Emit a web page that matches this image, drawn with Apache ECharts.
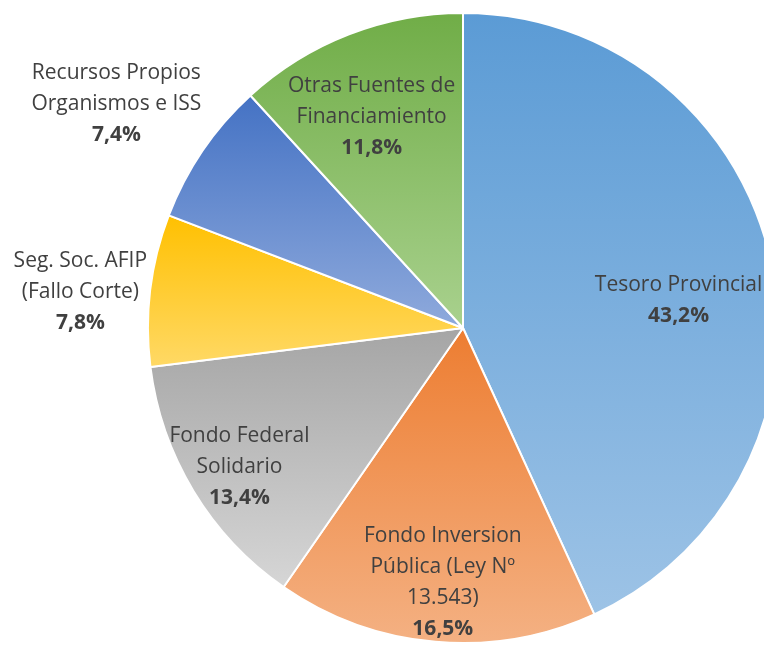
<!DOCTYPE html>
<html>
<head>
<meta charset="utf-8">
<script src="https://cdn.jsdelivr.net/npm/echarts@6/dist/echarts.min.js"></script>
<style>
  html, body { margin: 0; padding: 0; background: #fff; }
  #chart { width: 764px; height: 646px; }
</style>
</head>
<body>
<div id="chart"></div>
<script>
// datos
const categories = [
    'Tesoro Provincial',
    'Fondo Inversion\nPública (Ley Nº\n13.543)',
    'Fondo Federal\nSolidario',
    'Seg. Soc. AFIP\n(Fallo Corte)',
    'Recursos Propios\nOrganismos e ISS',
    'Otras Fuentes de\nFinanciamiento'
];
const shares = [43.2, 16.5, 13.4, 7.8, 7.4, 11.8];

// colores (arriba -> abajo del degradado)
const colorsTop = ['#5b9bd5', '#ed7d31', '#a5a5a5', '#ffc000', '#4472c4', '#70ad47'];
const colorsBottom = ['#9dc3e6', '#f4b183', '#d6d6d6', '#ffd966', '#8faadc', '#a9d18e'];
// posicion de la etiqueta: distancia relativa al radio y desvio de angulo (grados)
const labelRadius = [0.69, 0.81, 0.835, 1.22, 1.31, 0.73];
const labelShift = [5, -0.5, -0.6, -1.6, -1.4, -2.2];

const cx = 463, cy = 328, R = 315;

const total = shares.reduce((a, b) => a + b, 0);
const cumul = [];
shares.reduce((acc, v, i) => { cumul[i] = acc; return acc + v; }, 0);

const fmt = v => v.toFixed(1).replace('.', ',') + '%';

let myChart = echarts.init(document.getElementById('chart'));

let option = {
    animation: false,
    textStyle: {fontFamily: 'Open Sans'},
    series: [
        {
            type: 'pie',
            center: [cx, cy],
            radius: [0, R],
            startAngle: 90,
            clockwise: true,
            avoidLabelOverlap: false,
            itemStyle: {borderColor: '#fff', borderWidth: 2},
            label: {
                show: true,
                position: 'inside',
                formatter: p => '{n|' + p.name.split('\n').join('}\n{n|') + '}\n{v|' + fmt(p.value) + '}',
                rich: {
                    n: {fontSize: 21, color: '#404040', lineHeight: 31, fontFamily: 'Open Sans'},
                    v: {fontSize: 21, color: '#404040', lineHeight: 31, fontWeight: 'bold', fontFamily: 'Open Sans'}
                }
            },
            labelLine: {show: false},
            labelLayout: function (p) {
                let i = p.dataIndex;
                let mid = (cumul[i] + shares[i] / 2) / total * Math.PI * 2 + labelShift[i] * Math.PI / 180;
                let r = R * labelRadius[i];
                return {
                    x: cx + r * Math.sin(mid),
                    y: cy - r * Math.cos(mid),
                    align: 'center',
                    verticalAlign: 'middle'
                };
            },
            data: categories.map((name, i) => ({
                name: name,
                value: shares[i],
                itemStyle: {
                    color: new echarts.graphic.LinearGradient(0, 0, 0, 1, [
                        {offset: 0, color: colorsTop[i]},
                        {offset: 1, color: colorsBottom[i]}
                    ])
                }
            }))
        }
    ]
};

myChart.setOption(option);
</script>
</body>
</html>
